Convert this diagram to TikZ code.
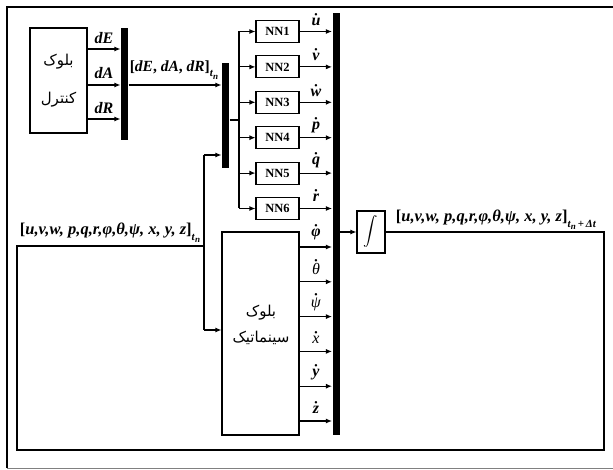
\documentclass[tikz,border=0pt]{standalone}
\usepackage{amsmath}
\usepackage{fontspec}
\setmainfont{Liberation Serif}
\newfontfamily\fa[Script=Arabic]{DejaVu Sans}
\TeXXeTstate=1
\usetikzlibrary{arrows.meta}
\newcommand\bi[1]{\textbf{\textit{#1}}}
\newcommand\dt[1]{$\boldsymbol{\dot{\text{#1}}}$}
\newcommand\tn{\raisebox{-0.35em}{\fontsize{11}{11}\selectfont\bi{t}\raisebox{-0.2em}{\fontsize{9}{9}\selectfont\bi{n}}}}
\newcommand\tndt{\raisebox{-0.35em}{\fontsize{11}{11}\selectfont\bi{t}\raisebox{-0.2em}{\fontsize{9}{9}\selectfont\bi{n}}\,\textbf{+}\,\bi{Δt}}}
\newcommand\statevec{\textbf{[\textit{u,v,w, p,q,r,φ,θ,ψ, x, y, z}]}}
\begin{document}
\begin{tikzpicture}[x=1pt,y=-1pt, line width=1.1pt,
  >={Latex[length=6pt,width=5pt]},
  blk/.style={draw, rectangle, inner sep=0pt},
  barr/.style={fill=black, rectangle, inner sep=0pt, draw=none},
  lab/.style={inner sep=0pt, font=\fontsize{16}{18}\selectfont},
  vec/.style={inner sep=0pt, font=\fontsize{16.5}{18}\selectfont},
  nn/.style={blk, minimum width=43pt, minimum height=22pt, font=\bfseries\fontsize{12.5}{14}\selectfont},
  fatext/.style={inner sep=0pt, font=\fa\fontsize{15}{20}\selectfont}]
\useasboundingbox (0,0) rectangle (613,470);
% outer frame
\draw[line width=1.4pt] (7,468) -- (7,7) -- (620,7);
\draw[line width=0.8pt, black!50] (7,468) -- (620,468);

% control block
\node[blk, minimum width=57pt, minimum height=105pt] (ctrl) at (58.5,80.5) {};
\node[fatext] (ctrlA) at (58.5,62) {\beginR بلوک\endR};
\node[fatext] (ctrlB) at (58.5,100) {\beginR کنترل\endR};

% bars
\node[barr, minimum width=7pt, minimum height=112pt] (mux1) at (124.5,84) {};
\node[barr, minimum width=7pt, minimum height=105pt] (mux2) at (225.5,115.5) {};
\node[barr, minimum width=7pt, minimum height=422pt] (bar) at (336,224) {};

% control outputs
\draw[->] (ctrl.east |- 0,49) -- (mux1.west |- 0,49);
\draw[->] (ctrl.east |- 0,85) -- (mux1.west |- 0,85);
\draw[->] (ctrl.east |- 0,119) -- (mux1.west |- 0,119);
\node[lab] (ldE) at (104,38) {\bi{dE}};
\node[lab] (ldA) at (104,73) {\bi{dA}};
\node[lab] (ldR) at (104,108) {\bi{dR}};

% mux1 -> mux2
\draw[->] (mux1.east |- 0,85) -- (mux2.west |- 0,85);
\node[vec, font=\fontsize{15.5}{18}\selectfont] (lctl) at (174,70) {\textbf{[\textit{dE}, \textit{dA}, \textit{dR}]}\tn};

% NN blocks
\coordinate (dtop) at (239,31.5);
\coordinate (dbot) at (239,208.5);
\draw (mux2.east |- 0,120) -- (239,120);
\draw (dtop) -- (dbot);
\foreach \i in {1,...,6}{
  \pgfmathsetmacro\yy{31.5+35.4*(\i-1)}
  \node[nn] (nn\i) at (277.5,\yy) {NN\i};
  \draw[->] (239,\yy) -- (nn\i.west);
  \draw[->] (nn\i.east) -- (nn\i.east -| bar.west);
}
\node[lab] (lu) at (316,20) {\dt{\bi{u}}};
\node[lab] (lv) at (316,55) {\dt{\bi{v}}};
\node[lab] (lw) at (316,91) {\dt{\bi{w}}};
\node[lab] (lp) at (316,125) {\dt{\bi{p}}};
\node[lab] (lq) at (316,160) {\dt{\bi{q}}};
\node[lab] (lr) at (316,196) {\dt{\bi{r}}};

% kinematic block
\node[blk, minimum width=77pt, minimum height=203pt] (kin) at (260.5,333.5) {};
\node[fatext] (kinA) at (261,313) {\beginR بلوک\endR};
\node[fatext] (kinB) at (261,338) {\beginR سینماتیک\endR};
\foreach \j in {0,...,5}{
  \pgfmathsetmacro\yk{247+34.8*\j}
  \draw[->] (kin.east |- 0,\yk) -- (bar.west |- 0,\yk);
}
\node[lab] (lphi) at (316,232) {\dt{\bi{φ}}};
\node[lab] (lth) at (316,267) {\dt{\textit{θ}}};
\node[lab] (lpsi) at (316,302) {\dt{\textit{ψ}}};
\node[lab] (lx) at (316,337) {\dt{\textit{x}}};
\node[lab] (ly) at (316,372) {\dt{\bi{y}}};
\node[lab] (lz) at (316,407) {\dt{\bi{z}}};

% integrator
\node[blk, minimum width=28pt, minimum height=42pt, font=\fontsize{15}{17}\selectfont] (integ) at (371,232) {$\boldsymbol{\displaystyle\int}$};
\draw[->] (bar.east |- integ) -- (integ.west);
\node[vec] (lout) at (496,220) {\statevec\tndt};

% feedback
\coordinate (fr) at (604,232);
\coordinate (fbtop) at (204,155);
\coordinate (fbbot) at (204,330);
\draw (integ.east) -- (fr) |- (17,450) |- (204,246);
\draw (fbtop) -- (fbbot);
\draw[->] (fbtop) -- (mux2.west |- fbtop);
\draw[->] (fbbot) -- (kin.west |- fbbot);
\node[vec] (lin) at (110,233) {\statevec\tn};
\end{tikzpicture}
\end{document}
